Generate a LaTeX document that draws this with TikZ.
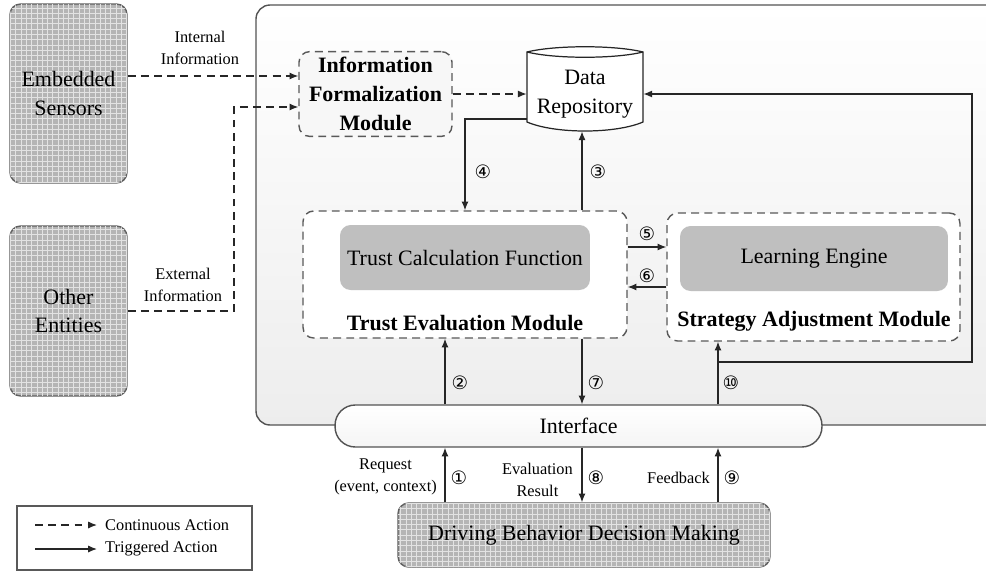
\documentclass[tikz,border=0pt]{standalone}
\usepackage{fontspec}
\setmainfont{Liberation Serif}
\newfontfamily\circfont{DejaVu Sans}
\usetikzlibrary{patterns,calc,positioning,arrows.meta}

\begin{document}
\begin{tikzpicture}[x=0.02cm, y=-0.02cm, >={Latex[length=5pt,width=4pt]}, font=\fontsize{12.5}{16.3}\selectfont]
\tikzstyle{entity} = [draw=gray!75!black, line width=0.8pt, rounded corners=6pt, fill=gray!58, postaction={pattern=grid, pattern color=gray!22}, align=center]
\tikzstyle{module} = [draw=gray!70!black, dash pattern=on 4.5pt off 3pt, line width=0.8pt, rounded corners=6pt]
\tikzstyle{engine} = [fill=gray!50, rounded corners=6pt, minimum height=1.3cm]
\tikzstyle{modlabel} = [font=\fontsize{12.5}{16.3}\selectfont\bfseries, align=center]
\tikzstyle{cont} = [->, dash pattern=on 4.5pt off 3pt, draw=gray!30!black, line width=0.7pt]
\tikzstyle{trig} = [->, draw=gray!30!black, line width=0.7pt]
\tikzstyle{small} = [font=\fontsize{9.3}{12.5}\selectfont, align=center]
\tikzstyle{num} = [font=\circfont\fontsize{10.5}{12}\selectfont, inner sep=1pt]

\useasboundingbox (0,0) rectangle (986,572);

% the platform frame
\draw[draw=gray!65!black, line width=0.8pt, rounded corners=8pt, top color=white, bottom color=gray!14] (256,5) rectangle (1010,425);

% guide columns
\coordinate (c1) at (445,0);
\coordinate (c2) at (582,0);
\coordinate (c3) at (718,0);

    \node [entity, minimum width=2.34cm, minimum height=3.58cm] (sensors) at (68.5,93.5) {Embedded\\Sensors};
    \node [entity, minimum width=2.34cm, minimum height=3.40cm] (entities) at (68.5,311) {Other\\Entities};
    \node [module, modlabel, minimum width=3.06cm, minimum height=1.68cm, fill=gray!6] (infomod) at (375.5,94) {Information\\Formalization\\Module};

    % data repository drum
    \draw[draw=gray!30!black, line width=0.7pt, fill=white] (527,52) .. controls (555,45) and (615,45) .. (643,52) -- (643,122) .. controls (615,134) and (555,134) .. (527,122) -- cycle;
    \draw[draw=gray!30!black, line width=0.7pt] (527,52) .. controls (555,59) and (615,59) .. (643,52);
    \node [minimum width=2.32cm, minimum height=1.68cm, align=center] (repo) at (585,94) {Data\\Repository};

    \node [module, fill=white, minimum width=6.48cm, minimum height=2.54cm] (trustmod) at (465,274.5) {};
    \node [engine, minimum width=5cm] (trustcalc) at (465,257.5) {Trust Calculation Function};
    \node [modlabel] (trustlbl) at (465,323) {Trust Evaluation Module};

    \node [module, fill=white, minimum width=5.86cm, minimum height=2.56cm] (stratmod) at (813.5,277) {};
    \node [engine, minimum width=5.36cm] (engine) at (814,258.5) {Learning Engine};
    \node [modlabel] (stratlbl) at (814,321) {Strategy Adjustment Module};

    \node [draw=gray!65!black, line width=0.8pt, rounded corners=11.5pt, top color=white, bottom color=gray!8, minimum width=9.74cm, minimum height=0.84cm] (interface) at (578.5,426) {Interface};
    \node [entity, minimum width=7.44cm, minimum height=1.28cm] (dbdm) at (584,535) {Driving Behavior Decision Making};

    % information inputs
    \coordinate (inrow) at (0,76);
    \coordinate (exrow) at (0,107);
    \coordinate (exbend) at (234,311);
    \draw [cont] (sensors.east |- inrow) -- (infomod.west |- inrow);
    \draw [cont] (entities.east |- exbend) -- (exbend) |- (infomod.west |- exrow);
    \node [small] (inlbl) at (200,48) {Internal\\Information};
    \node [small] (exlbl) at (183,285) {External\\Information};
    \draw [cont] (infomod.east) -- (repo.west |- infomod.east);

    % inner connectors
    \draw [trig] ($(repo.west)+(0,25)$) -| (trustmod.north);
    \draw [trig] (trustmod.north -| c2) -- ($(repo.south -| c2)+(0,-5)$);
    \coordinate (r5) at (0,247);
    \coordinate (r6) at (0,287);
    \draw [trig] (trustmod.east |- r5) -- (stratmod.west |- r5);
    \draw [trig] (stratmod.west |- r6) -- (trustmod.east |- r6);
    \draw [trig] (interface.north -| c1) -- (trustmod.south -| c1);
    \draw [trig] (trustmod.south -| c2) -- (interface.north -| c2);
    \draw [trig] (interface.north -| c3) -- (stratmod.south -| c3);
    \coordinate (fbturn) at (972,362);
    \draw [trig] (fbturn -| c3) -- (fbturn) |- (repo.east);

    % outer connectors
    \draw [trig] (dbdm.north -| c1) -- (interface.south -| c1);
    \draw [trig] (interface.south -| c2) -- (dbdm.north -| c2);
    \draw [trig] (dbdm.north -| c3) -- (interface.south -| c3);
    \node [small, anchor=east] (reqlbl) at (443,477) {Request\\(event, context)};
    \node [small, anchor=east] (evallbl) at (579,480) {Evaluation\\Result};
    \node [small, anchor=east] (fblbl) at (716,478) {Feedback};

    \node [num] (n1) at (459,478) {①};
    \node [num] (n2) at (460,383) {②};
    \node [num] (n3) at (598,172) {③};
    \node [num] (n4) at (483,172) {④};
    \node [num] (n5) at (647,234) {⑤};
    \node [num] (n6) at (647,276) {⑥};
    \node [num] (n7) at (596,383) {⑦};
    \node [num] (n8) at (596,478) {⑧};
    \node [num] (n9) at (732,478) {⑨};
    \node [num] (n10) at (731,383) {⑩};

    % legend
    \node [draw=gray!70!black, line width=0.8pt, fill=white, minimum width=4.7cm, minimum height=1.28cm] (legend) at (134.5,538) {};
    \coordinate (l1a) at (35,525);
    \coordinate (l1b) at (97,525);
    \coordinate (l2a) at (35,549);
    \coordinate (l2b) at (97,549);
    \draw [cont] (l1a) -- (l1b);
    \draw [trig] (l2a) -- (l2b);
    \node [small, anchor=west] (conttxt) at (99,525) {Continuous Action};
    \node [small, anchor=west] (trigtxt) at (99,549) {Triggered Action};

\end{tikzpicture}
\end{document}
